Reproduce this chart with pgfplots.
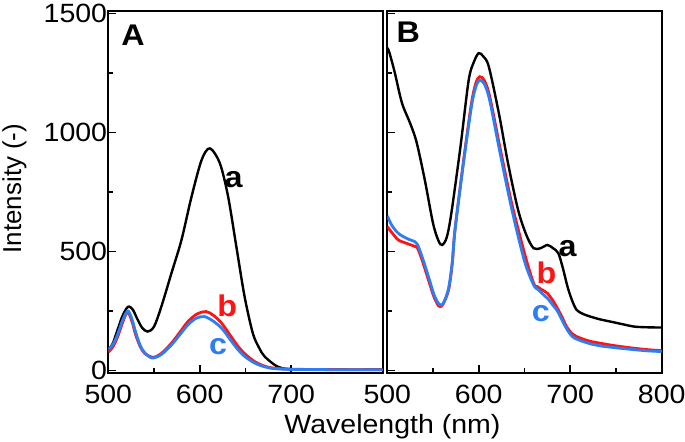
\documentclass[border=0pt]{standalone}
\usepackage{pgfplots}
\pgfplotsset{compat=1.18}
\usepackage{fontspec}
\setmainfont{Liberation Sans}
\newfontfamily\wide{Liberation Sans}[FakeStretch=1.08]
\definecolor{cred}{RGB}{255,20,20}
\definecolor{cblue}{RGB}{45,125,245}

\tikzset{
  lab/.style={font=\wide\fontsize{30}{30}\selectfont\bfseries},
  panlab/.style={font=\wide\fontsize{30}{30}\selectfont\bfseries},
}
\pgfplotsset{
  spec/.style={
    scale only axis, width=274.4bp, height=362bp,
    xmin=500, xmax=800, ymin=-10, ymax=1511,
    axis line style={line width=2bp},
    tick pos=left, tick align=inside,
    major tick length=8bp, minor tick length=5bp,
    every tick/.style={black, line width=1.5bp},
    minor x tick num=1, minor y tick num=1,
    ytick={0,500,1000,1500},
    tick label style={font=\wide\fontsize{26.5}{26.5}\selectfont},
    yticklabel style={inner sep=1bp},
    xticklabel style={inner sep=0bp, yshift=-12bp},
    /pgf/number format/assume math mode=true,
    /pgf/number format/set thousands separator={},
  },
  ca/.style={black, line width=2.4bp, smooth, no markers},
  cb/.style={cred, line width=2.8bp, smooth, no markers},
  cc/.style={cblue, line width=2.8bp, smooth, no markers},
}

\begin{document}
\begin{tikzpicture}
\useasboundingbox (0,0) rectangle (685bp,-442bp);

% panel A
\begin{axis}[spec, at={(108.3bp,-373bp)}, anchor=south west,
  xtick={500,600,700}]
\addplot[ca] coordinates {(500,85) (505,115) (510,170) (515,225) (520,262) (523,269) (527,255) (532,215) (537,180) (543,164) (550,185) (558,269) (569,409) (580,549) (591,731) (602,885) (611,934) (622,871) (631,731) (640,521) (649,311) (658,157) (665,95) (671,59) (685,17) (700,6) (750,4) (800,4)};
\addplot[cb] coordinates {(500,78) (505,100) (510,140) (515,195) (519,235) (522,244) (526,205) (530,150) (535,100) (540,72) (549,56) (558,72) (569,115) (578,160) (587,206) (597,238) (607,248) (615,232) (624,199) (633,150) (642,101) (650,68) (660,38) (670,20) (680,11) (700,6) (750,4) (800,4)};
\addplot[cc] coordinates {(500,88) (505,110) (510,150) (515,205) (519,240) (522,250) (526,215) (530,160) (535,105) (540,74) (548,53) (558,68) (569,108) (578,150) (587,192) (596,220) (605,227) (614,210) (624,178) (633,132) (642,87) (650,57) (660,32) (670,17) (680,9) (700,5) (750,4) (800,4)};
\node[panlab] at (axis cs:527,1410) {A};
\node[lab] at (axis cs:637,801) {a};
\node[lab, cred] at (axis cs:630,272) {b};
\node[lab, cblue] at (axis cs:620,101) {c};
\end{axis}

% panel B
\begin{axis}[spec, at={(387.3bp,-373bp)}, anchor=south west,
  xtick={500,600,700,800}, yticklabels={}]
\addplot[ca] coordinates {(500,1355) (502,1340) (508,1255) (516,1125) (525,1039) (532,960) (541,801) (550,619) (556,545) (560,528) (565,560) (570,661) (580,941) (589,1221) (595,1300) (600,1334) (605,1320) (611,1277) (622,1081) (632,871) (643,675) (652,570) (660,514) (668,515) (675,528) (681,515) (687,493) (692,430) (697,353) (702,295) (707,255) (714,238) (722,227) (733,215) (744,206) (756,196) (770,185) (785,182) (800,181)};
\addplot[cb] coordinates {(500,605) (505,580) (512,549) (521,535) (530,522) (533,515) (538,465) (545,381) (551,310) (556,272) (558,269) (561,280) (567,339) (571,450) (574,591) (583,871) (592,1123) (597,1210) (601,1235) (606,1220) (612,1151) (623,941) (636,703) (651,479) (660,367) (664,353) (669,340) (675,325) (680,300) (685,269) (691,225) (696,185) (702,155) (707,143) (720,125) (733,115) (750,104) (770,94) (785,88) (800,84)};
\addplot[cc] coordinates {(500,650) (505,610) (512,577) (521,556) (530,542) (533,530) (538,479) (545,395) (551,320) (556,282) (559,276) (562,288) (567,346) (571,455) (574,590) (583,865) (592,1110) (597,1195) (601,1220) (606,1205) (612,1135) (623,920) (636,680) (650,460) (660,360) (665,340) (671,318) (676,300) (681,275) (686,250) (692,205) (697,170) (704,138) (720,115) (733,104) (750,96) (770,88) (785,83) (800,80)};
\node[panlab] at (axis cs:523,1420) {B};
\node[lab] at (axis cs:697,514) {a};
\node[lab, cred] at (axis cs:674,412) {b};
\node[lab, cblue] at (axis cs:668,241) {c};
\end{axis}

\node[anchor=base, font=\wide\fontsize{26.5}{26.5}\selectfont] at (392.5bp,-433.3bp) {Wavelength (nm)};
\node[anchor=base, rotate=90, font=\fontsize{26}{26}\selectfont] at (21bp,-188.5bp) {Intensity (-)};
\end{tikzpicture}
\end{document}
